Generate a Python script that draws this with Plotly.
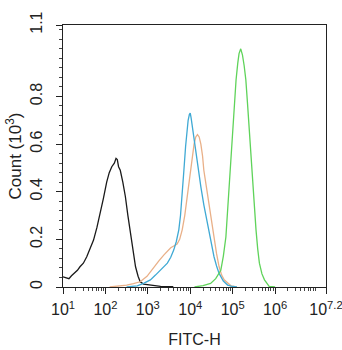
import plotly.graph_objects as go

# log10(FITC-H) positions and counts (x10^3)
black_log = [1.00, 1.08, 1.14, 1.20, 1.28, 1.34, 1.40, 1.48, 1.56, 1.64, 1.72, 1.80, 1.88, 1.95,
             2.03, 2.09, 2.15, 2.21, 2.25, 2.28, 2.31, 2.35, 2.41, 2.47, 2.53, 2.59, 2.65, 2.71,
             2.77, 2.82, 2.90, 3.06, 3.30, 3.60]
black_cnt = [0.043, 0.040, 0.035, 0.047, 0.058, 0.070, 0.085, 0.100, 0.127, 0.160, 0.197, 0.250,
             0.310, 0.370, 0.440, 0.480, 0.505, 0.520, 0.540, 0.535, 0.505, 0.490, 0.440, 0.380,
             0.300, 0.226, 0.150, 0.085, 0.045, 0.022, 0.012, 0.008, 0.003, 0.001]

blue_log = [2.50, 2.75, 2.90, 3.06, 3.18, 3.30, 3.38, 3.46, 3.54, 3.61, 3.67, 3.73, 3.77, 3.81,
            3.85, 3.89, 3.92, 3.95, 3.98, 4.00, 4.02, 4.05, 4.09, 4.13, 4.19, 4.25, 4.32, 4.40,
            4.48, 4.56, 4.62, 4.68, 4.78, 4.88, 5.00, 5.10]
blue_cnt = [0.000, 0.005, 0.015, 0.030, 0.050, 0.070, 0.085, 0.100, 0.125, 0.155, 0.190, 0.240,
            0.300, 0.380, 0.490, 0.590, 0.660, 0.700, 0.725, 0.730, 0.710, 0.670, 0.620, 0.560,
            0.490, 0.420, 0.345, 0.270, 0.195, 0.127, 0.088, 0.057, 0.025, 0.008, 0.002, 0.000]

orange_log = [2.10, 2.30, 2.50, 2.66, 2.82, 2.98, 3.14, 3.26, 3.38, 3.46, 3.54, 3.61, 3.69, 3.75,
              3.81, 3.87, 3.93, 3.99, 4.05, 4.09, 4.13, 4.17, 4.21, 4.25, 4.29, 4.32, 4.38,
              4.44, 4.50, 4.56, 4.62, 4.68, 4.74, 4.80, 4.96, 5.10]
orange_cnt = [0.000, 0.003, 0.008, 0.014, 0.022, 0.045, 0.085, 0.110, 0.135, 0.150, 0.165, 0.172,
              0.180, 0.200, 0.240, 0.300, 0.380, 0.470, 0.550, 0.600, 0.630, 0.640, 0.630, 0.600,
              0.550, 0.490, 0.420, 0.350, 0.275, 0.200, 0.140, 0.085, 0.050, 0.030, 0.005, 0.000]

green_log = [4.10, 4.30, 4.48, 4.60, 4.72, 4.78, 4.84, 4.88, 4.92, 4.96, 5.00, 5.04, 5.08, 5.12,
             5.15, 5.19, 5.23, 5.27, 5.31, 5.35, 5.39, 5.43, 5.47, 5.51, 5.55, 5.59, 5.63, 5.69,
             5.75, 5.86, 6.00]
green_cnt = [0.000, 0.006, 0.015, 0.035, 0.070, 0.130, 0.210, 0.320, 0.450, 0.560, 0.660, 0.770,
             0.870, 0.940, 0.980, 1.000, 0.975, 0.930, 0.870, 0.770, 0.660, 0.550, 0.450, 0.340,
             0.240, 0.160, 0.100, 0.055, 0.030, 0.003, 0.000]

series_colors = ["#1a1a1a", "#3fa9d4", "#e9b088", "#5fd35a"]

major_tick_exp = [1, 2, 3, 4, 5, 6, 7.2]
major_tick_text = ["10<sup>1</sup>", "10<sup>2</sup>", "10<sup>3</sup>", "10<sup>4</sup>",
                   "10<sup>5</sup>", "10<sup>6</sup>", "10<sup>7.2</sup>"]
y_tick_vals = [0, 0.2, 0.4, 0.6, 0.8, 1.1]
y_tick_text = ["0", "0.2", "0.4", "0.6", "0.8", "1.1"]

fig = go.Figure()
for lg, cnt, col in [(black_log, black_cnt, series_colors[0]),
                     (orange_log, orange_cnt, series_colors[2]),
                     (blue_log, blue_cnt, series_colors[1]),
                     (green_log, green_cnt, series_colors[3])]:
    fig.add_trace(go.Scatter(x=[10 ** v for v in lg], y=cnt, mode="lines",
                             line=dict(color=col, width=1.3), showlegend=False,
                             hoverinfo="skip"))

minor_x = [m * 10 ** d for d in range(1, 7) for m in range(2, 10) if m * 10 ** d < 10 ** 7.2]
minor_y = [round(i * 0.04, 2) for i in range(0, 28) if round(i * 0.04, 2) not in y_tick_vals]

font = dict(family="Liberation Sans, Arial, sans-serif", size=15, color="#222")
fig.update_layout(
    width=342, height=350,
    margin=dict(l=63, r=16, t=25, b=63, autoexpand=False),
    paper_bgcolor="white", plot_bgcolor="white",
    font=font,
    xaxis=dict(type="log", range=[1, 7.2], tickvals=[10 ** e for e in major_tick_exp],
               ticktext=major_tick_text, ticks="outside", ticklen=6, tickwidth=1.2,
               tickcolor="#222", showgrid=False, zeroline=False, showline=True,
               linecolor="#222", linewidth=1.2, mirror=True, automargin=False,
               tickfont=dict(size=16), ticklabelstandoff=2, ticklabeloverflow="allow",
               title=dict(text="FITC-H", font=dict(size=16), standoff=16),
               minor=dict(tickvals=minor_x, ticks="outside", ticklen=3, tickcolor="#444",
                          showgrid=False)),
    yaxis=dict(range=[0, 1.1], tickvals=y_tick_vals, ticktext=y_tick_text, tickangle=-90,
               ticks="outside", ticklen=6, tickwidth=1.2, tickcolor="#222",
               showgrid=False, zeroline=False, showline=True, linecolor="#222",
               linewidth=1.2, mirror=True, automargin=False,
               tickfont=dict(size=16), ticklabelstandoff=8, ticklabeloverflow="allow",
               title=dict(text="Count (10<sup>3</sup>)", font=dict(size=17), standoff=1),
               minor=dict(tickvals=minor_y, ticks="outside", ticklen=3, tickcolor="#444",
                          showgrid=False)),
)
fig.write_html("out.html")
